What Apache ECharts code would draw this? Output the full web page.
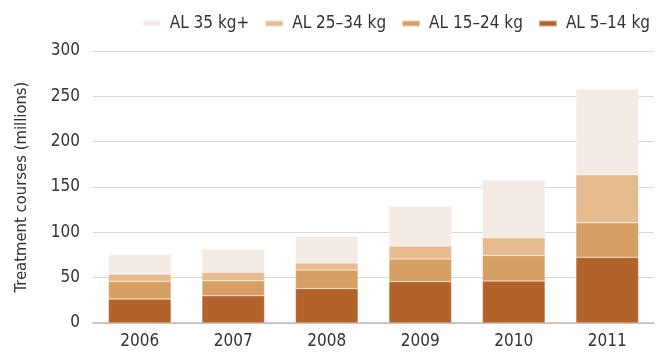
<!DOCTYPE html>
<html><head><meta charset="utf-8">
<script src="https://cdn.jsdelivr.net/npm/echarts@6/dist/echarts.min.js"></script>
<style>html,body{margin:0;padding:0;background:#fff}#c{width:665px;height:354px}</style>
</head><body><div id="c"></div>
<script>
const years = ['2006','2007','2008','2009','2010','2011'];
const al5_14  = [26.5, 30, 38, 45.7, 46.4, 72.5];
const al15_24 = [19.5, 16.5, 20.5, 25, 28, 38];
const al25_34 = [8, 9.5, 7.8, 14.3, 19.5, 53];
const al35p   = [21.5, 25.7, 29.4, 43.9, 63.7, 94.6];
const seriesNames = ['AL 5–14 kg','AL 15–24 kg','AL 25–34 kg','AL 35 kg+'];
const colors = ['#b3632a','#d69f63','#e6bb90','#f4ebe4'];
const yTicks = [0, 300, 50];

const font = '"DejaVu Sans Condensed", "Liberation Sans", sans-serif';
const chart = echarts.init(document.getElementById('c'), null, {renderer:'canvas'});
const data = [al5_14, al15_24, al25_34, al35p];
chart.setOption({
  animation:false,
  textStyle:{fontFamily:font},
  legend:{
    data:[seriesNames[3],seriesNames[2],seriesNames[1],seriesNames[0]],
    right:10, top:10, itemWidth:18, itemHeight:6, itemGap:15,
    icon:'rect',
    textStyle:{fontFamily:font, fontSize:17, color:'#333', padding:[0,0,0,4]}
  },
  grid:{left:93, right:11, top:51, bottom:31, containLabel:false},
  xAxis:{
    type:'category', data:years,
    axisLine:{lineStyle:{color:'#bdb8b5', width:1.5}},
    axisTick:{show:false},
    axisLabel:{fontFamily:font, fontSize:17, color:'#333', margin:10}
  },
  yAxis:{
    type:'value', min:yTicks[0], max:yTicks[1], interval:yTicks[2],
    name:'Treatment courses (millions)', nameLocation:'middle', nameGap:63,
    nameTextStyle:{fontFamily:font, fontSize:16.5, color:'#333'},
    axisLine:{show:false}, axisTick:{show:false},
    splitLine:{lineStyle:{color:'#dcd7d3', width:1.2}},
    axisLabel:{fontFamily:font, fontSize:17, color:'#333', margin:13}
  },
  series: seriesNames.map((n,i)=>({
    name:n, type:'bar', stack:'a', data:data[i], barWidth:'67%',
    itemStyle:{color:colors[i], borderColor:'rgba(255,255,255,0.5)', borderWidth:0.5}
  }))
});
</script></body></html>
